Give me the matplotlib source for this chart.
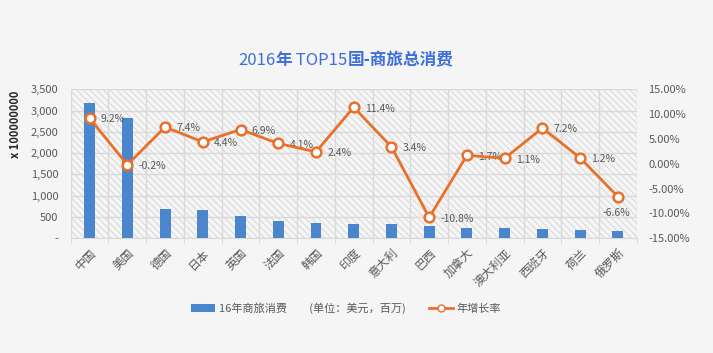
import matplotlib
matplotlib.use('Agg')
import matplotlib.pyplot as plt
from matplotlib.patches import Rectangle, Patch
from matplotlib.lines import Line2D
from matplotlib.ticker import FuncFormatter, MultipleLocator
from matplotlib.transforms import ScaledTranslation
import numpy as np

plt.rcParams['font.family'] = ['Noto Sans CJK SC', 'DejaVu Sans']
plt.rcParams['hatch.color'] = '#d3d3d3'
plt.rcParams['hatch.linewidth'] = 0.6

countries = ['中国', '美国', '德国', '日本', '英国', '法国', '韩国', '印度', '意大利',
             '巴西', '加拿大', '澳大利亚', '西班牙', '荷兰', '俄罗斯']
spend = [3185, 2833, 688, 658, 517, 399, 352, 343, 343, 289, 249, 235, 218, 195, 171]
growth = [9.2, -0.2, 7.4, 4.4, 6.9, 4.1, 2.4, 11.4, 3.4, -10.8, 1.7, 1.1, 7.2, 1.2, -6.6]

bar_color = '#4a86cc'
line_color = '#e8702a'
text_color = '#595959'
grid_color = '#d9d9d9'

fig = plt.figure(figsize=(7.13, 3.53), dpi=100)
fig.patch.set_facecolor('#f5f5f5')
ax = fig.add_axes([0.0992, 0.325, 0.7938, 0.422])
ax.set_facecolor('#f5f5f5')

# hatched plot area background
ax.add_patch(Rectangle((0, 0), 1, 1, transform=ax.transAxes, facecolor='none',
                       edgecolor='#d3d3d3', hatch='\\\\\\\\\\', linewidth=0, zorder=0))

x = np.arange(len(countries))
ax.bar(x, spend, width=0.29, color=bar_color, zorder=3)
ax.set_xlim(-0.5, len(countries) - 0.5)
ax.set_ylim(0, 3500)
ax.yaxis.set_major_locator(MultipleLocator(500))
ax.yaxis.set_major_formatter(FuncFormatter(lambda v, p: '-' if v == 0 else f'{int(v):,}'))
ax.set_xticks(x)
ax.set_xticklabels(countries, rotation=45, ha='right', rotation_mode='anchor', fontsize=8.5,
                   color=text_color)
for lab in ax.get_xticklabels():
    lab.set_transform(lab.get_transform() + ScaledTranslation(-3 / 100, 0, fig.dpi_scale_trans))
ax.set_xticks(np.arange(-0.5, len(countries)), minor=True)
ax.tick_params(axis='x', which='major', length=0, pad=6)
ax.tick_params(axis='x', which='minor', length=4, color=grid_color)
ax.tick_params(axis='y', length=0, labelsize=8, labelcolor=text_color, pad=9)
ax.grid(axis='y', color=grid_color, linewidth=1, zorder=1)
ax.grid(axis='x', which='minor', color=grid_color, linewidth=1, zorder=1)
for s in ['top', 'right', 'left']:
    ax.spines[s].set_visible(False)
ax.spines['bottom'].set_color(grid_color)
ax.set_ylabel('x 100000000', fontsize=8, fontweight='bold', color='#262626')
ax.yaxis.set_label_coords(-0.086, 0.767)

ax2 = ax.twinx()
ax2.plot(x, growth, color=line_color, linewidth=2, marker='o', markersize=7,
         markerfacecolor='white', markeredgecolor=line_color, markeredgewidth=1.8, zorder=4)
ax2.set_ylim(-15, 15)
ax2.yaxis.set_major_locator(MultipleLocator(5))
ax2.yaxis.set_major_formatter(FuncFormatter(lambda v, p: f'{v:.2f}%'))
ax2.tick_params(axis='y', length=0, labelsize=8, labelcolor=text_color, pad=8.5)
for s in ax2.spines.values():
    s.set_visible(False)

for i, g in enumerate(growth):
    if i == len(growth) - 1:
        ax2.annotate(f'{g}%', (i, g), xytext=(-1, -12), textcoords='offset points',
                     ha='center', va='center', fontsize=7.5, color=text_color)
    else:
        ax2.annotate(f'{g}%', (i, g), xytext=(8, -1), textcoords='offset points',
                     ha='left', va='center', fontsize=7.5, color=text_color)

# title: latin parts regular, chinese parts bold
title_parts = [('2016', 'normal'), ('年', 'bold'), (' TOP15', 'normal'), ('国-商旅总消费', 'bold')]
renderer = fig.canvas.get_renderer()
texts = []
cur = 0
for s, w in title_parts:
    t = fig.text(0, 0.83, s, ha='left', va='center', fontsize=12, color='#3d6fd9', fontweight=w)
    ext = t.get_window_extent(renderer)
    texts.append((t, cur))
    cur += ext.width
start = 0.485 * fig.bbox.width - cur / 2
for t, off in texts:
    t.set_x((start + off) / fig.bbox.width)

handles = [Patch(facecolor=bar_color, edgecolor='none'),
           Line2D([], [], color=line_color, linewidth=2, marker='o', markersize=5,
                  markerfacecolor='white', markeredgecolor=line_color)]
labels = ['16年商旅消费\u3000\u3000(单位：美元，百万)', '年增长率']
leg = fig.legend(handles, labels, loc='center', bbox_to_anchor=(0.485, 0.127), ncol=2,
                 frameon=False, fontsize=8, handlelength=2.2, columnspacing=2.1,
                 handletextpad=0.3)
for t in leg.get_texts():
    t.set_color(text_color)

fig.savefig('out.png', dpi=100, facecolor=fig.get_facecolor())
